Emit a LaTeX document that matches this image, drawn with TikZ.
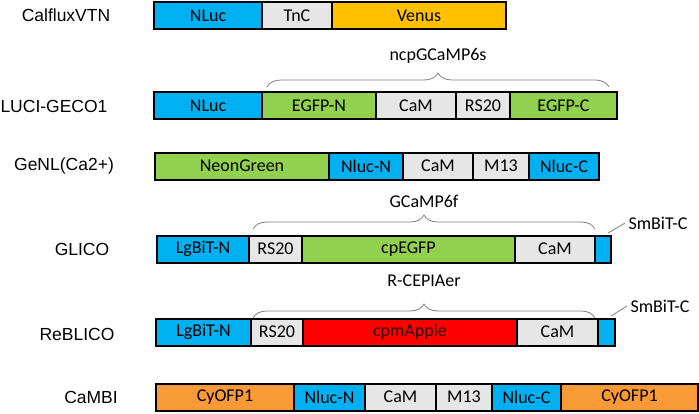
\documentclass[tikz,border=0pt]{standalone}
\usepackage{fontspec}
\setmainfont{Carlito}
\newfontfamily\labelfont{Liberation Sans}
\usetikzlibrary{decorations.pathreplacing,positioning}

\definecolor{nlucblue}{HTML}{00B0F0}
\definecolor{camgray}{HTML}{E7E6E6}
\definecolor{venusgold}{HTML}{FFC000}
\definecolor{gfpgreen}{HTML}{92D050}
\definecolor{applered}{HTML}{FF0000}
\definecolor{appletext}{HTML}{300000}
\definecolor{cyorange}{HTML}{F99A38}
\definecolor{bracegray}{HTML}{808080}

\tikzset{
  seg/.style={draw=black,line width=2pt,minimum height=27pt,inner sep=0pt,anchor=west,font=\fontsize{18}{20}\selectfont},
  sensor/.style={font=\labelfont\fontsize{17.5}{19}\selectfont},
  domaintext/.style={font=\fontsize{18}{20}\selectfont},
  domainbrace/.style={draw=bracegray,line width=0.8pt,decoration={brace,amplitude=14pt},decorate},
  pointer/.style={draw=bracegray,line width=0.8pt}
}

\begin{document}
\begin{tikzpicture}[x=1pt,y=-1pt]
\useasboundingbox (0,0) rectangle (699,413);

% sensor names
\node[sensor] (calfluxname) at (66,15) {CalfluxVTN};
\node[sensor] (luciname) at (54,106) {LUCI-GECO1};
\node[sensor] (genlname) at (64,166) {GeNL(Ca2+)};
\node[sensor] (gliconame) at (82,249) {GLICO};
\node[sensor] (reblname) at (77,334) {ReBLICO};
\node[sensor] (cambiname) at (91,397) {CaMBI};

% CalfluxVTN
\foreach \a/\b/\c/\t [count=\n] in {153/261/nlucblue/NLuc,261/331/camgray/TnC,331/505/venusgold/Venus}
  \node[seg,fill=\c,minimum width={(\b-\a)*1pt}] (calflux\n) at (\a,15.5) {\t};

% LUCI-GECO1
\foreach \a/\b/\c/\t [count=\n] in {153/261/nlucblue/NLuc,261/375/gfpgreen/EGFP-N,375/455/camgray/CaM,455/509/camgray/RS20,509/616/gfpgreen/EGFP-C}
  \node[seg,fill=\c,minimum width={(\b-\a)*1pt}] (luci\n) at (\a,105.5) {\t};

\coordinate (luciL) at (267,87);
\coordinate (luciR) at (609,87);
\draw[domainbrace] (luciL) -- node[domaintext,yshift=31pt] (ncp) {ncpGCaMP6s} (luciR);

% GeNL(Ca2+)
\foreach \a/\b/\c/\t [count=\n] in {154/328/gfpgreen/NeonGreen,328/402/nlucblue/Nluc-N,402/472/camgray/CaM,472/528/camgray/M13,528/598/nlucblue/Nluc-C}
  \node[seg,fill=\c,minimum width={(\b-\a)*1pt}] (genl\n) at (\a,166) {\t};

% GLICO
\foreach \a/\b/\c/\t [count=\n] in {156/248/nlucblue/LgBiT-N,248/301/camgray/RS20,301/514/gfpgreen/cpEGFP,514/594/camgray/CaM,594/610/nlucblue/{}}
  \node[seg,fill=\c,minimum width={(\b-\a)*1pt}] (glico\n) at (\a,249) {\t};

\coordinate (glicoL) at (253,229);
\coordinate (glicoR) at (595,229);
\draw[domainbrace] (glicoL) -- node[domaintext,yshift=28pt] (gcamp) {GCaMP6f} (glicoR);
\node[domaintext,anchor=west] (glicosm) at (625,223) {SmBiT-C};
\coordinate (glicotip) at (608,233);
\draw[pointer] (glicotip) -- (glicosm.west);

% ReBLICO
\foreach \a/\b/\c/\t [count=\n] in {155/250/nlucblue/LgBiT-N,250/302/camgray/RS20,302/516/applered/{\textcolor{appletext}{cpmApple}},516/597/camgray/CaM,597/614/nlucblue/{}}
  \node[seg,fill=\c,minimum width={(\b-\a)*1pt}] (rebl\n) at (\a,332) {\t};

\coordinate (reblL) at (253,318);
\coordinate (reblR) at (595,318);
\draw[domainbrace] (reblL) -- node[domaintext,yshift=37pt] (cepia) {R-CEPIAer} (reblR);
\node[domaintext,anchor=west] (reblsm) at (627,306) {SmBiT-C};
\coordinate (rebltip) at (611,316);
\draw[pointer] (rebltip) -- (reblsm.west);

% CaMBI
\foreach \a/\b/\c/\t [count=\n] in {155/293/cyorange/CyOFP1,293/364/nlucblue/Nluc-N,364/435/camgray/CaM,435/491/camgray/M13,491/560/nlucblue/Nluc-C,560/697/cyorange/CyOFP1}
  \node[seg,fill=\c,minimum width={(\b-\a)*1pt}] (cambi\n) at (\a,397) {\t};
\end{tikzpicture}
\end{document}
